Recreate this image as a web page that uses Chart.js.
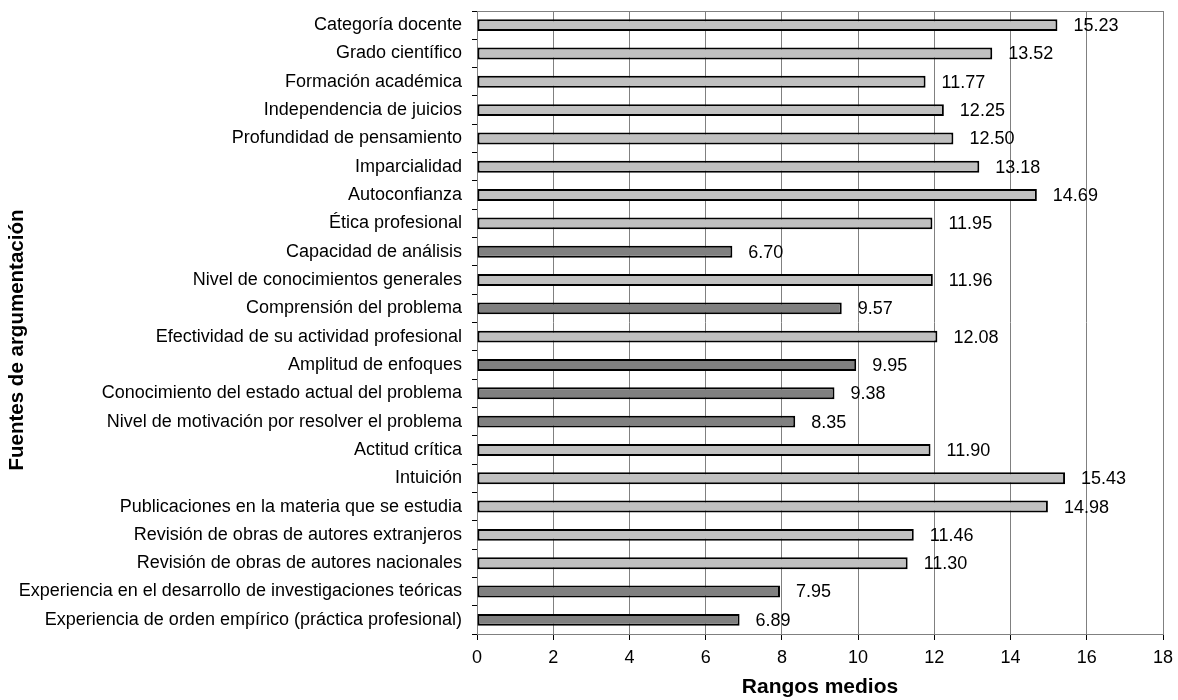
<!DOCTYPE html>
<html>
<head>
<meta charset="utf-8">
<script src="https://cdn.jsdelivr.net/npm/chart.js@4"></script>
<style>
  body { margin: 0; background: #fff; }
  canvas { display: block; }
</style>
</head>
<body>
<canvas id="bar-chart" width="1178" height="700"></canvas>
<script>
// Fuentes de argumentación y sus rangos medios
const categories = [
  "Categoría docente",
  "Grado científico",
  "Formación académica",
  "Independencia de juicios",
  "Profundidad de pensamiento",
  "Imparcialidad",
  "Autoconfianza",
  "Ética profesional",
  "Capacidad de análisis",
  "Nivel de conocimientos generales",
  "Comprensión del problema",
  "Efectividad de su actividad profesional",
  "Amplitud de enfoques",
  "Conocimiento del estado actual del problema",
  "Nivel de motivación por resolver el problema",
  "Actitud crítica",
  "Intuición",
  "Publicaciones en la materia que se estudia",
  "Revisión de obras de autores extranjeros",
  "Revisión de obras de autores nacionales",
  "Experiencia en el desarrollo de investigaciones teóricas",
  "Experiencia de orden empírico (práctica profesional)"
];
const rangosMedios = [15.23, 13.52, 11.77, 12.25, 12.50, 13.18, 14.69, 11.95, 6.70, 11.96, 9.57,
  12.08, 9.95, 9.38, 8.35, 11.90, 15.43, 14.98, 11.46, 11.30, 7.95, 6.89];
// true = barra oscura
const destacadas = [false, false, false, false, false, false, false, false, true, false, true,
  false, true, true, true, false, false, false, false, false, true, true];
const xTicks = [0, 2, 4, 6, 8, 10, 12, 14, 16, 18];
const yTitle = "Fuentes de argumentación";

const FONT = "'Liberation Sans', Arial, sans-serif";

// etiquetas de valor a la derecha de cada barra
const valueLabels = {
  id: "valueLabels",
  afterDatasetsDraw(chart) {
    const ctx = chart.ctx;
    const meta = chart.getDatasetMeta(0);
    ctx.save();
    ctx.font = "18px " + FONT;
    ctx.fillStyle = "#000";
    ctx.textAlign = "left";
    ctx.textBaseline = "middle";
    meta.data.forEach(function(bar, i) {
      ctx.fillText(rangosMedios[i].toFixed(2), bar.x + 16, bar.y + 1);
    });
    ctx.restore();
  }
};

// borde del área de trazado + título vertical (centrado en el gráfico, como en Excel)
const plotBorder = {
  id: "plotBorder",
  beforeDatasetsDraw(chart) {
    const a = chart.chartArea;
    const ctx = chart.ctx;
    ctx.save();
    ctx.strokeStyle = "#808080";
    ctx.lineWidth = 1;
    ctx.strokeRect(a.left + 0.5, a.top + 0.5, a.right - a.left, a.bottom - a.top);
    ctx.restore();
  },
  afterDraw(chart) {
    const ctx = chart.ctx;
    ctx.save();
    ctx.translate(17, 340);
    ctx.rotate(-Math.PI / 2);
    ctx.font = "bold 20.5px " + FONT;
    ctx.fillStyle = "#000";
    ctx.textAlign = "center";
    ctx.textBaseline = "middle";
    ctx.fillText(yTitle, 0, 0);
    ctx.restore();
  }
};

const ctx = document.getElementById("bar-chart").getContext("2d");
new Chart(ctx, {
  type: "bar",
  data: {
    labels: categories,
    datasets: [{
      data: rangosMedios,
      backgroundColor: destacadas.map(d => d ? "#808080" : "#C0C0C0"),
      borderColor: "#000",
      borderWidth: 2,
      borderSkipped: false,
      barPercentage: 0.42,
      categoryPercentage: 1
    }]
  },
  options: {
    indexAxis: "y",
    responsive: false,
    animation: false,
    layout: { padding: { top: 11, right: 15, left: 0, bottom: 0 } },
    plugins: {
      legend: { display: false },
      tooltip: { enabled: false }
    },
    scales: {
      x: {
        min: 0,
        max: 18,
        afterBuildTicks: function(axis) {
          axis.ticks = xTicks.map(v => ({ value: v }));
        },
        afterFit: function(axis) {
          axis.height = 66;
          axis.paddingLeft = 0;
          axis.paddingRight = 0;
        },
        grid: {
          color: "#808080",
          lineWidth: 1,
          tickLength: 6,
          tickColor: "#000"
        },
        border: { color: "#000", width: 1 },
        ticks: {
          color: "#000",
          padding: 7,
          maxRotation: 0,
          font: { family: FONT, size: 18 }
        },
        title: {
          display: true,
          text: "Rangos medios",
          color: "#000",
          padding: { top: 0, bottom: 0 },
          font: { family: FONT, size: 21, weight: "bold" }
        }
      },
      y: {
        offset: true,
        afterFit: function(axis) {
          axis.width = 477;
          axis.paddingTop = 0;
          axis.paddingBottom = 0;
        },
        grid: {
          offset: true,
          drawOnChartArea: false,
          tickLength: 5,
          tickColor: "#000"
        },
        border: { color: "#000", width: 1 },
        ticks: {
          color: "#000",
          padding: 10,
          autoSkip: false,
          font: { family: FONT, size: 18 }
        },
        title: { display: false }
      }
    }
  },
  plugins: [plotBorder, valueLabels]
});
</script>
</body>
</html>
